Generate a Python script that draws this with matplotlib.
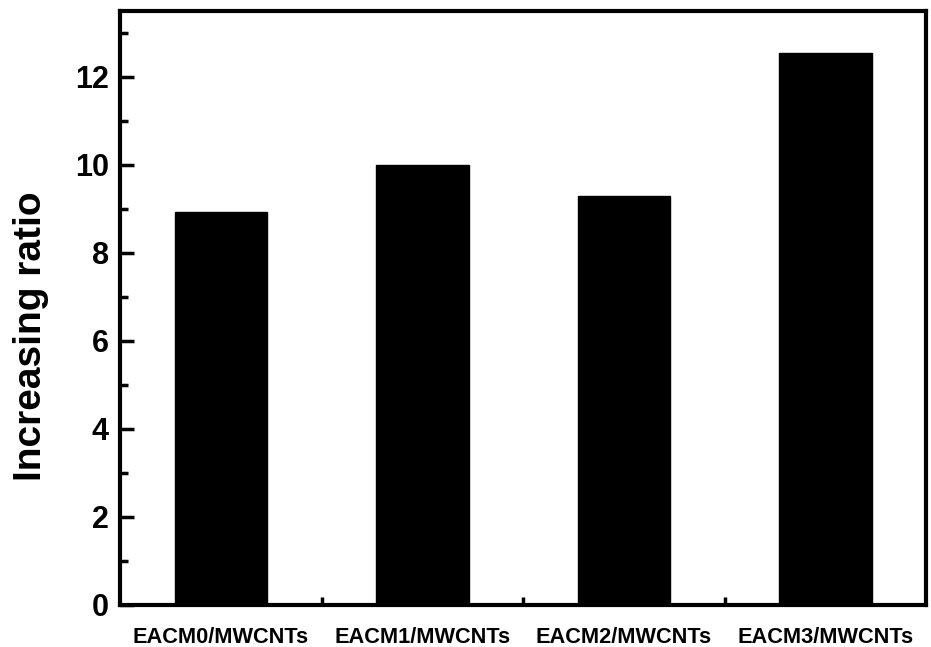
import matplotlib
matplotlib.use("Agg")
import matplotlib.pyplot as plt
from matplotlib.ticker import MultipleLocator

categories = ["EACM0/MWCNTs", "EACM1/MWCNTs", "EACM2/MWCNTs", "EACM3/MWCNTs"]
ratios = [8.94, 10.0, 9.3, 12.54]

plt.rcParams["font.family"] = ["Liberation Sans", "DejaVu Sans"]
plt.rcParams["font.weight"] = "bold"

fig = plt.figure(figsize=(9.31, 6.47), dpi=100)
ax = fig.add_axes([0.129, 0.065, 0.866, 0.918])

positions = list(range(1, len(categories) + 1))
ax.bar(positions, ratios, width=0.46, color="black", edgecolor="black")

ax.set_xlim(0.5, 4.5)
ax.set_ylim(0, 13.5)

ax.set_xticks(positions)
ax.set_xticklabels(categories, fontsize=15.7, fontweight="bold")
ax.set_xticks([1.5, 2.5, 3.5], minor=True)
ax.tick_params(axis="x", which="major", length=0, pad=16)
ax.tick_params(axis="x", which="minor", direction="in", length=6, width=2.5)

ax.yaxis.set_major_locator(MultipleLocator(2))
ax.yaxis.set_minor_locator(MultipleLocator(1))
ax.tick_params(axis="y", which="major", direction="in", length=10, width=2.5,
               labelsize=22, pad=8)
ax.tick_params(axis="y", which="minor", direction="in", length=6, width=2.5)
for lab in ax.get_yticklabels():
    lab.set_fontweight("bold")

ax.set_ylabel("Increasing ratio", fontsize=28, fontweight="bold")
ax.yaxis.set_label_coords(-0.088, 0.453)

for s in ax.spines.values():
    s.set_linewidth(3)

fig.savefig("out.png", dpi=100)
